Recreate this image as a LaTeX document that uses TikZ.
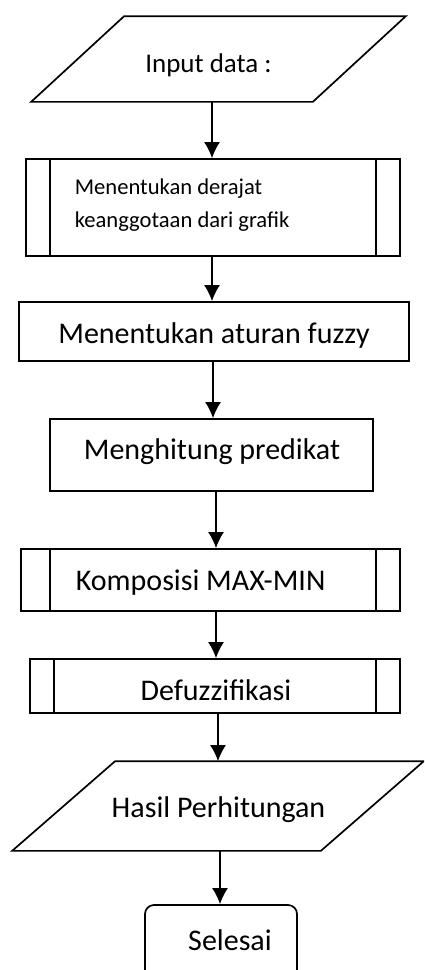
\documentclass[tikz,border=0pt]{standalone}
\usepackage{fontspec}
\setmainfont{Carlito}
\usetikzlibrary{arrows.meta}

\begin{document}
\begin{tikzpicture}[x=1pt, y=-1pt, line width=1.7pt,
		>={Latex[length=16pt,width=16pt]},   %Pfeilspitzen
		box/.style={draw, rectangle, inner sep=0pt},
		rahmen/.style={rectangle, inner sep=0pt},
		pfeil/.style={->, line width=1.7pt},
		schrift/.style={font=\fontsize{#1}{#1}\selectfont, inner sep=0pt}]
		%Bildbereich
		\useasboundingbox (0,0) rectangle (424,970);
		\clip (0,0) rectangle (424,970);
		%Kästen
		\node[rahmen, minimum width=373pt, minimum height=84pt] (input) at (218.5,59) {};
		\draw (input.south west) -- ([xshift=-93pt]input.south east) -- (input.north east) -- ([xshift=93pt]input.north west) -- cycle;
		\node[box, minimum width=374pt, minimum height=97pt] (derajat) at (213,207.5) {};
		\node[box, minimum width=390pt, minimum height=59pt] (aturan) at (214,331.5) {};
		\node[box, minimum width=323pt, minimum height=72pt] (predikat) at (211.5,455) {};
		\node[box, minimum width=379pt, minimum height=62pt] (komposisi) at (210.5,580) {};
		\node[box, minimum width=370pt, minimum height=54pt] (defuzz) at (215,686) {};
		\node[rahmen, minimum width=410pt, minimum height=88pt] (hasil) at (218,806) {};
		\draw (hasil.south west) -- ([xshift=-103pt]hasil.south east) -- (hasil.north east) -- ([xshift=103pt]hasil.north west) -- cycle;
		\node[box, rounded corners=9pt, minimum width=152pt, minimum height=84pt] (selesai) at (221,947) {};
		%Unterprogramm-Striche
		\draw ([xshift=25pt]derajat.north west) -- ([xshift=25pt]derajat.south west);
		\draw ([xshift=-25pt]derajat.north east) -- ([xshift=-25pt]derajat.south east);
		\draw ([xshift=30pt]komposisi.north west) -- ([xshift=30pt]komposisi.south west);
		\draw ([xshift=-25pt]komposisi.north east) -- ([xshift=-25pt]komposisi.south east);
		\draw ([xshift=25pt]defuzz.north west) -- ([xshift=25pt]defuzz.south west);
		\draw ([xshift=-25pt]defuzz.north east) -- ([xshift=-25pt]defuzz.south east);
		%Beschriftung
		\node[schrift=27pt, anchor=base] (t-input) at (208.5,72) {Input data :};
		\node[schrift=23pt, anchor=base west, align=left, font=\fontsize{22.6pt}{33pt}\selectfont] (t-derajat) at (74,227) {Menentukan derajat\\keanggotaan dari grafik};
		\node[schrift=30pt, anchor=base] (t-aturan) at (214,343) {Menentukan aturan fuzzy};
		\node[schrift=30pt, anchor=base] (t-predikat) at (212,459) {Menghitung predikat};
		\node[schrift=30pt, anchor=base west] (t-komposisi) at (75,590) {Komposisi MAX-MIN};
		\node[schrift=30pt, anchor=base] (t-defuzz) at (216,700) {Defuzzifikasi};
		\node[schrift=30pt, anchor=base] (t-hasil) at (218.5,817) {Hasil Perhitungan};
		\node[schrift=30pt, anchor=base] (t-selesai) at (230,950) {Selesai};
		%Pfeile
		\draw[pfeil] ([xshift=-6.5pt]input.south) -- ([xshift=-1pt]derajat.north);
		\draw[pfeil] ([xshift=-1pt]derajat.south) -- ([xshift=-2pt]aturan.north);
		\draw[pfeil] ([xshift=-1pt]aturan.south) -- ([xshift=1.5pt]predikat.north);
		\draw[pfeil] ([xshift=4.5pt]predikat.south) -- ([xshift=5.5pt]komposisi.north);
		\draw[pfeil] ([xshift=5.5pt]komposisi.south) -- ([xshift=1pt]defuzz.north);
		\draw[pfeil] ([xshift=3pt]defuzz.south) -- (hasil.north);
		\draw[pfeil] ([xshift=2pt]hasil.south) -- ([xshift=-1pt]selesai.north);
	\end{tikzpicture}
\end{document}
